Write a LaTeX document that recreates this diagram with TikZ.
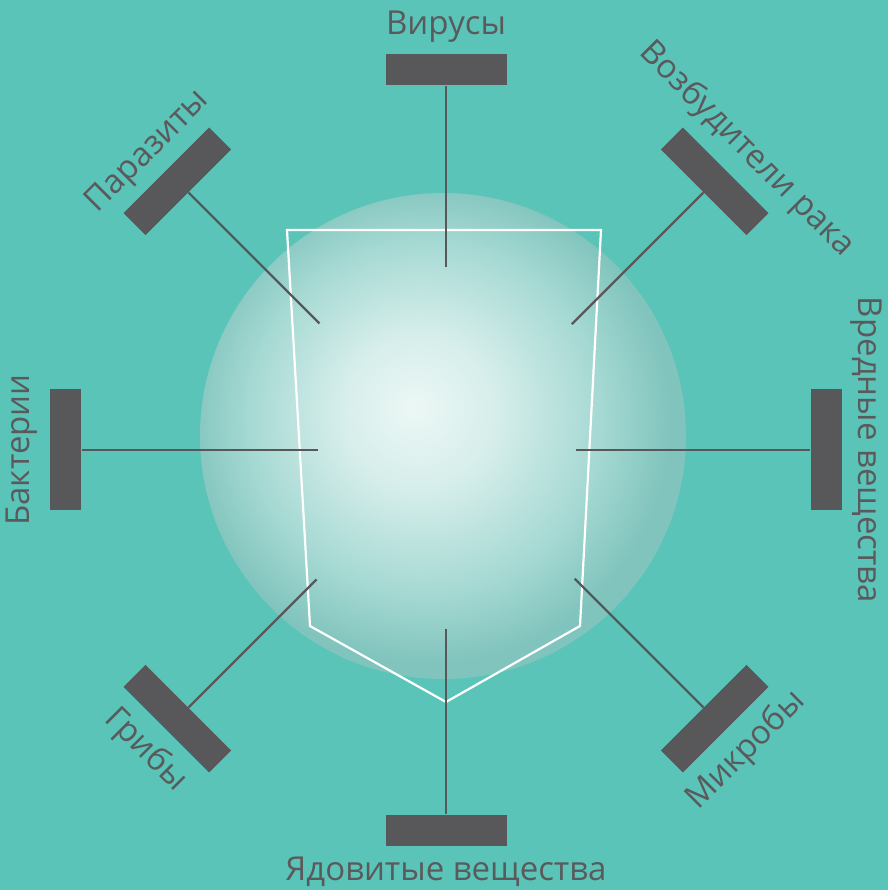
\documentclass[tikz,border=0pt]{standalone}
\usepackage{fontspec}
\setmainfont{Open Sans}
\usepackage{tikz}
\usetikzlibrary{positioning}

\definecolor{bgteal}{HTML}{5BC4B9}
\definecolor{bargray}{HTML}{58585A}
\definecolor{txtgray}{HTML}{5A5A5C}
\definecolor{glowA}{HTML}{ECF7F5}
\definecolor{glowB}{HTML}{D6EEEB}
\definecolor{glowC}{HTML}{A6D9D3}
\definecolor{glowD}{HTML}{80C4BD}

\pgfdeclareradialshading{glow}{\pgfpoint{-3bp}{3bp}}{color(0bp)=(glowA); color(8bp)=(glowB); color(18bp)=(glowC); color(25bp)=(glowD); color(50bp)=(glowD)}

\tikzset{
  barbox/.style={fill=bargray, minimum width=121pt, minimum height=31pt, inner sep=0pt},
  spoke/.style={draw=bargray, line width=2.4pt},
  lbl/.style={font=\fontsize{33}{40}\selectfont, text=txtgray, inner sep=0pt},
}

\begin{document}
\begin{tikzpicture}[x=1pt, y=1pt]
% Canvas
\fill[bgteal] (-446,-440) rectangle (442,450);
\useasboundingbox (-446,-440) rectangle (442,450);
% Glow behind the shield
\shade[shading=glow] (-3,14) circle (243);
% Shield
\draw[white, line width=2.2pt] (-159,220) -- (155,220) -- (134,-176) -- (0,-252) -- (-136,-176) -- cycle;
% Spokes and bars
\foreach \ang/\inr/\nm in {90/183/vir, 45/178/rak, 0/130/vred, 315/182/mik, 270/179/yad, 225/183/grib, 180/128/bakt, 135/179/par} {
  \coordinate (\nm-in) at (\ang:\inr);
  \node[barbox, rotate=\ang-90] (\nm) at (\ang:380) {};
  \draw[spoke] (\nm-in) -- (\nm);
}
% Labels
\node[lbl] (lbl-vir) at (90:423) {Вирусы};
\node[lbl, rotate=-45] (lbl-rak) at (45:425) {Возбудители рака};
\node[lbl, rotate=-90] (lbl-vred) at (0:420) {Вредные вещества};
\node[lbl, rotate=45] (lbl-mik) at (315:425) {Микробы};
\node[lbl] (lbl-yad) at (270:422) {Ядовитые вещества};
\node[lbl, rotate=-45] (lbl-grib) at (225:425) {Грибы};
\node[lbl, rotate=90] (lbl-bakt) at (180:424) {Бактерии};
\node[lbl, rotate=45] (lbl-par) at (135:421) {Паразиты};
\end{tikzpicture}
\end{document}
